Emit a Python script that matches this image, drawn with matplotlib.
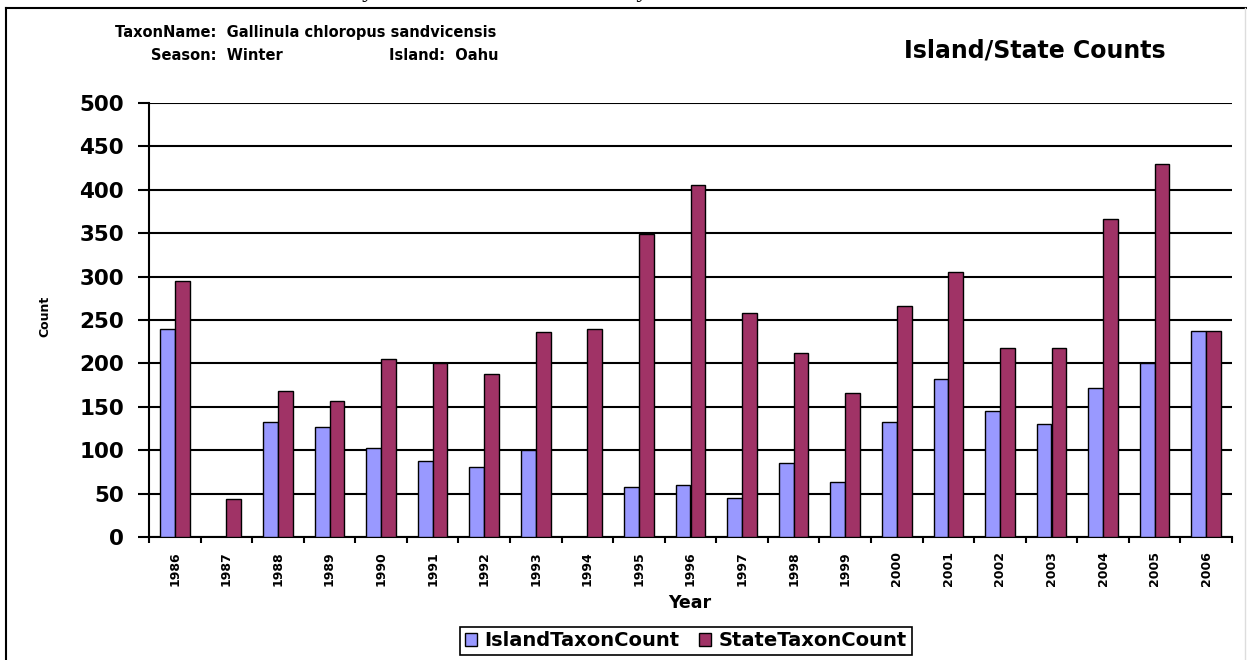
import matplotlib
matplotlib.use("Agg")
import matplotlib.pyplot as plt
from matplotlib.lines import Line2D
import numpy as np

# data
years = ["1986", "1987", "1988", "1989", "1990", "1991", "1992", "1993", "1994", "1995", "1996",
         "1997", "1998", "1999", "2000", "2001", "2002", "2003", "2004", "2005", "2006"]
island_count = [240, 0, 132, 127, 102, 87, 81, 100, 0, 58, 60,
                45, 85, 63, 132, 182, 145, 130, 172, 200, 237]
state_count = [295, 44, 168, 157, 205, 200, 188, 236, 240, 349, 405,
               258, 212, 166, 266, 305, 218, 218, 366, 430, 237]

blue = "#9999FF"
red = "#A03366"
W, H = 1247, 660

fig = plt.figure(figsize=(W / 100, H / 100), dpi=100)
fig.patch.set_facecolor("white")

ax = fig.add_axes([149 / W, 1 - 537 / H, (1232 - 149) / W, (537 - 103) / H])

x = np.arange(len(years))
bw = 0.286
ax.bar(x - bw / 2, island_count, bw, color=blue, edgecolor="black", linewidth=1.0,
       label="IslandTaxonCount", zorder=3)
ax.bar(x + bw / 2, state_count, bw, color=red, edgecolor="black", linewidth=1.0,
       label="StateTaxonCount", zorder=3)

ax.set_xlim(-0.5, len(years) - 0.5)
ax.set_ylim(0, 500)
ax.set_yticks(np.arange(0, 501, 50))
ax.yaxis.grid(True, color="black", linewidth=1.5, zorder=0)
ax.set_axisbelow(True)

for s in ["top", "right"]:
    ax.spines[s].set_visible(False)
ax.spines["left"].set_linewidth(1.5)
ax.spines["bottom"].set_linewidth(1.5)

ax.tick_params(axis="y", direction="out", length=8, width=1.5, pad=10, labelsize=15.5)
for lab in ax.get_yticklabels():
    lab.set_fontweight("bold")

ax.set_xticks(x)
ax.set_xticklabels(years, rotation=90, fontsize=9, fontweight="bold")
ax.set_xticks(np.arange(-0.5, len(years), 1), minor=True)
ax.tick_params(axis="x", which="major", length=0, pad=10)
ax.tick_params(axis="x", which="minor", direction="out", length=4, width=1.5)

fig.text(45 / W, 1 - 316 / H, "Count", rotation=90, ha="center", va="center",
         fontsize=9, fontweight="bold")
fig.text(690 / W, 1 - 603 / H, "Year", ha="center", va="center",
         fontsize=12.5, fontweight="bold")

# header
fig.text(1035 / W, 1 - 51 / H, "Island/State Counts", ha="center", va="center",
         fontsize=17, fontweight="bold")
fig.text(115 / W, 1 - 32 / H, "TaxonName:  Gallinula chloropus sandvicensis", ha="left",
         va="center", fontsize=10.5, fontweight="bold")
fig.text(151 / W, 1 - 55 / H, "Season:  Winter", ha="left", va="center",
         fontsize=10.5, fontweight="bold")
fig.text(389 / W, 1 - 55 / H, "Island:  Oahu", ha="left", va="center",
         fontsize=10.5, fontweight="bold")

# caption line cut off at the top of the page (as in the reference)
fig.text(0.0, 1 + 3 / H, "Table 4. State-wide and island surveys: 1986-2006 winter survey counts for Hawaiian Moorhen.",
         ha="left", va="baseline", fontsize=18, family="Liberation Serif")

# frame of the chart area
fig.add_artist(Line2D([6 / W, 6 / W], [0, 1 - 8 / H], color="black", linewidth=1.5))
fig.add_artist(Line2D([6 / W, 1], [1 - 8 / H, 1 - 8 / H], color="black", linewidth=1.5))
fig.add_artist(Line2D([1245 / W, 1245 / W], [0, 1 - 8 / H], color="#dddddd", linewidth=1))

leg = fig.legend(loc="center", bbox_to_anchor=(686 / W, 1 - 641 / H), ncol=2,
                 frameon=True, fancybox=False, edgecolor="black", framealpha=1,
                 prop={"weight": "bold", "size": 14}, handlelength=0.6, handleheight=0.6,
                 handletextpad=0.4, columnspacing=1.0, borderpad=0.25)
leg.get_frame().set_linewidth(1.2)

fig.savefig("out.png", dpi=100)
